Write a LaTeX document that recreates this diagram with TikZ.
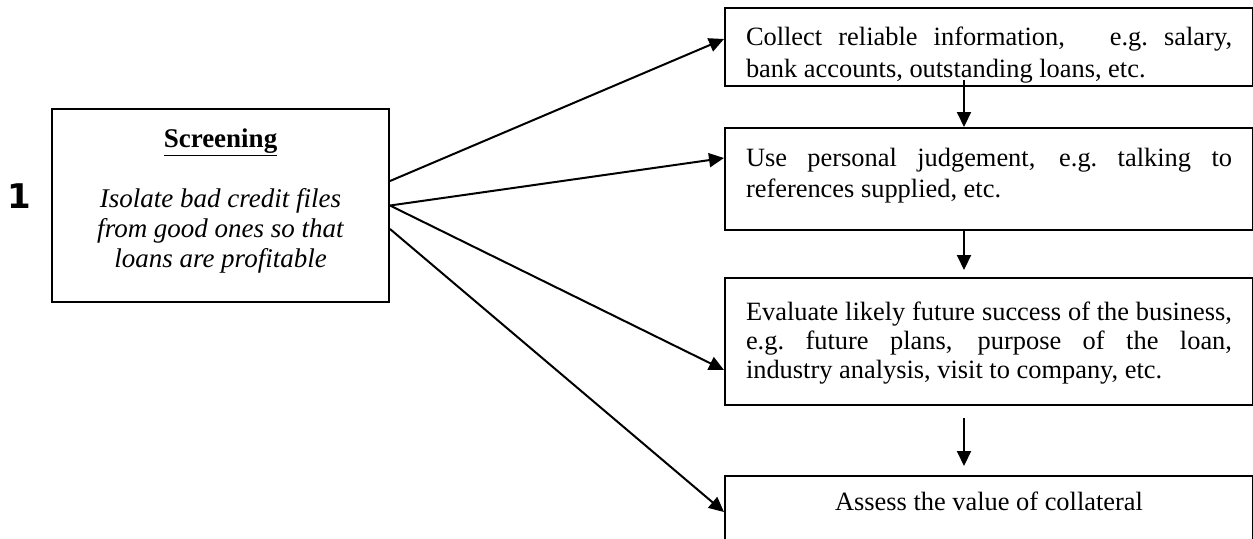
\documentclass[tikz,border=0pt]{standalone}
\usepackage{fontspec}
\setmainfont{Liberation Serif}
\newfontfamily\numfont{DejaVu Sans}
\usetikzlibrary{arrows.meta,calc}

% box text: height, first baseline, line skip, text
\newcommand{\stepbody}[4]{%
  \parbox[c][#1][t]{243pt}{\fontsize{13.2}{#3}\selectfont\rule{0pt}{#2}#4}}

\begin{document}
\begin{tikzpicture}[x=0.5pt,y=-0.5pt,line width=1pt,>={Triangle[length=7.5pt,width=7pt]},
  stepbox/.style={draw,anchor=north west,inner xsep=10.5pt,inner ysep=0pt,minimum width=264pt}]
\clip (0,0) rectangle (1253,538);
% ---------- number ----------
\node[font=\numfont\bfseries\fontsize{17}{20}\selectfont] (num) at (19.5,196) {1};
% ---------- screening box ----------
\node[draw,inner sep=0pt,minimum width=168.5pt] (scr) at (220.5,205.5)
  {\parbox[c][96.5pt][t]{160pt}{\centering\fontsize{13.5}{15}\selectfont\rule{0pt}{19pt}\textbf{\underline{Screening}}\\[15pt]
   \itshape Isolate bad credit files\\ from good ones so that\\ loans are profitable}};
% ---------- steps (right column) ----------
\node[stepbox] (info) at (724,7)
  {\stepbody{39pt}{18.5pt}{16pt}{Collect reliable information,\hspace{1em} e.g.\ salary,\linebreak bank accounts, outstanding loans, etc.}};
\node[stepbox] (judge) at (724,127)
  {\stepbody{51pt}{19pt}{15.5pt}{Use personal judgement, e.g.\ talking to\linebreak references supplied, etc.}};
\node[stepbox] (future) at (724,277)
  {\stepbody{63.5pt}{21pt}{14.7pt}{Evaluate likely future success of the business,\linebreak e.g.\ future plans, purpose of the loan,\linebreak industry analysis, visit to company, etc.}};
\node[stepbox] (collat) at (724,475)
  {\stepbody{60pt}{17pt}{14pt}{\centering Assess the value of collateral}};
% ---------- fan: screening -> steps ----------
\draw[->] ($(scr.east)+(0,-24.5)$) -- ($(info.north west)+(0,32)$);
\draw[->] (scr.east) -- ($(judge.north west)+(0,31)$);
\draw[->] (scr.east) -- ($(future.north west)+(0,93)$);
\draw[->] ($(scr.east)+(0,23.5)$) -- ($(collat.north west)+(0,37)$);
% ---------- downward arrows ----------
\coordinate (col) at (964,0);
\draw[->] ($(info.south -| col)+(0,-7)$) -- (judge.north -| col);
\draw[->] (judge.south -| col) -- ($(future.north -| col)+(0,-7)$);
\draw[->] ($(future.south -| col)+(0,12)$) -- ($(collat.north -| col)+(0,-9)$);
\end{tikzpicture}
\end{document}
